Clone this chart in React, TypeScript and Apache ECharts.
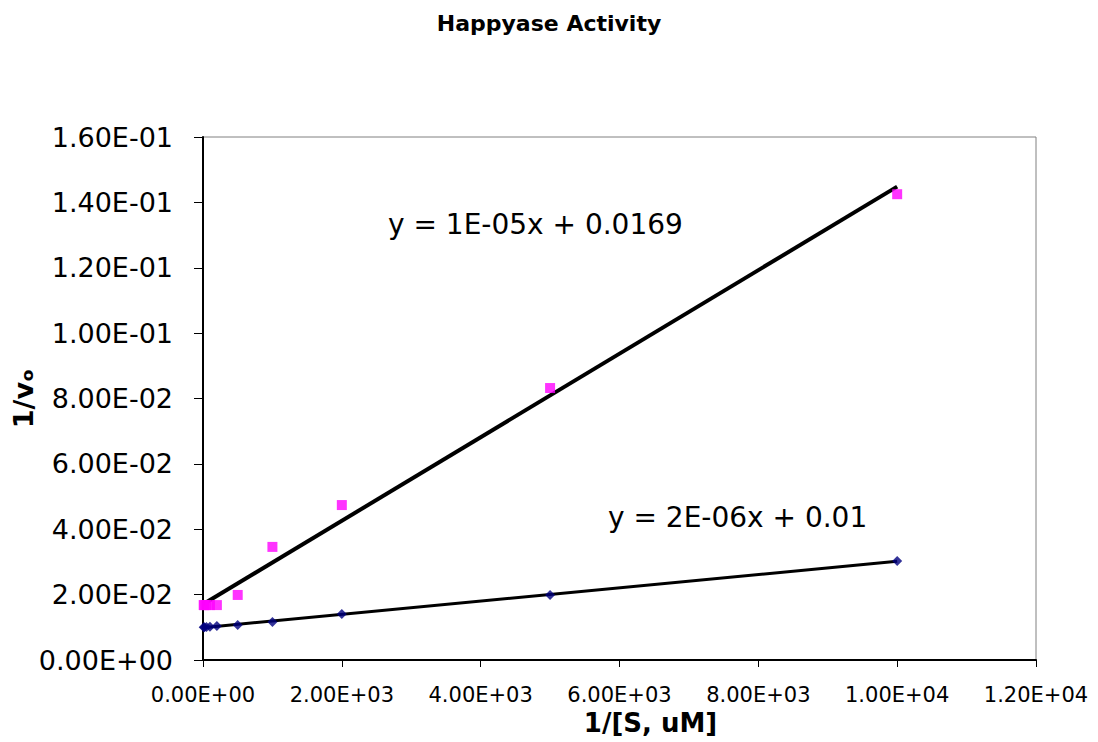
import React, { useEffect, useRef } from "react";
import * as echarts from "echarts";

const xValues = [10, 20, 50, 100, 200, 500, 1000, 2000, 5000, 10000];
const seriesA = [0.0168, 0.0168, 0.0168, 0.0168, 0.0168, 0.0199, 0.0346, 0.0474, 0.0832, 0.1425];
const seriesB = [0.0100, 0.0100, 0.0101, 0.0102, 0.0104, 0.0107, 0.0116, 0.0141, 0.0199, 0.0303];
const labelA = "y = 1E-05x + 0.0169";
const labelB = "y = 2E-06x + 0.01";

function fit(xs: number[], ys: number[]) {
  const n = xs.length;
  const mx = xs.reduce((a, b) => a + b, 0) / n;
  const my = ys.reduce((a, b) => a + b, 0) / n;
  let sxy = 0, sxx = 0;
  for (let i = 0; i < n; i++) { sxy += (xs[i] - mx) * (ys[i] - my); sxx += (xs[i] - mx) ** 2; }
  const m = sxy / sxx;
  return { m, b: my - m * mx };
}

function fmt(v: number) {
  if (v === 0) return "0.00E+00";
  const e = Math.floor(Math.log10(Math.abs(v)) + 1e-9);
  const mant = v / Math.pow(10, e);
  const sign = e < 0 ? "-" : "+";
  const ea = Math.abs(e);
  return mant.toFixed(2) + "E" + sign + (ea < 10 ? "0" + ea : String(ea));
}

export default function App() {
  const ref = useRef<HTMLDivElement>(null);
  useEffect(() => {
    const chart = echarts.init(ref.current!, null, { renderer: "svg" });
    const fa = fit(xValues, seriesA);
    const fb = fit(xValues, seriesB);
    const xEnd = xValues[xValues.length - 1];
    const font = "Verdana, 'DejaVu Sans', sans-serif";
    chart.setOption({
      animation: false,
      backgroundColor: "#fff",
      title: {
        text: "Happyase Activity",
        left: "center",
        top: 7,
        textStyle: { fontFamily: font, fontSize: 22, fontWeight: "bold", color: "#000" },
      },
      grid: {
        left: 203, right: 62, top: 137, bottom: 82,
        containLabel: false, outerBoundsMode: "none",
        show: true, borderColor: "#808080", borderWidth: 1,
      },
      xAxis: {
        type: "value",
        min: 0,
        max: 12000,
        interval: 2000,
        name: "1/[S, uM]",
        nameLocation: "middle",
        nameGap: 50,
        nameMoveOverlap: false,
        nameTextStyle: { fontFamily: font, fontSize: 26, fontWeight: "bold", color: "#000", padding: [0, 0, 0, 62] },
        axisLine: { onZero: false, lineStyle: { color: "#000", width: 2 } },
        axisTick: { show: true, length: 7, lineStyle: { color: "#000" } },
        axisLabel: { formatter: fmt, fontFamily: font, fontSize: 21, color: "#000", margin: 24 },
        splitLine: { show: false },
      },
      yAxis: {
        type: "value",
        min: 0,
        max: 0.16,
        interval: 0.02,
        name: "1/vₒ",
        nameLocation: "middle",
        nameGap: 166,
        nameMoveOverlap: false,
        nameTextStyle: { fontFamily: font, fontSize: 27, fontWeight: "bold", color: "#000" },
        axisLine: { onZero: false, lineStyle: { color: "#000", width: 2 } },
        axisTick: { show: true, length: 9, lineStyle: { color: "#000" } },
        axisLabel: { formatter: fmt, fontFamily: font, fontSize: 27, color: "#000", margin: 30 },
        splitLine: { show: false },
      },
      series: [
        {
          type: "line",
          data: [[0, fa.b], [xEnd, fa.m * xEnd + fa.b]],
          showSymbol: false,
          lineStyle: { color: "#000", width: 4 },
          z: 2,
        },
        {
          type: "line",
          data: [[0, fb.b], [xEnd, fb.m * xEnd + fb.b]],
          showSymbol: false,
          lineStyle: { color: "#000", width: 3 },
          z: 2,
        },
        {
          type: "scatter",
          data: xValues.map((x, i) => [x, seriesA[i]]),
          symbol: "rect",
          symbolSize: 10,
          itemStyle: { color: "#FF00FF" },
          z: 3,
        },
        {
          type: "scatter",
          data: xValues.map((x, i) => [x, seriesB[i]]),
          symbol: "diamond",
          symbolSize: 10,
          itemStyle: { color: "#000080" },
          z: 3,
        },
      ],
      graphic: [
        { type: "text", left: 388, top: 210, style: { text: labelA, fontFamily: font, fontSize: 28, fill: "#000" } },
        { type: "text", left: 608, top: 503, style: { text: labelB, fontFamily: font, fontSize: 28, fill: "#000" } },
      ],
    });
    return () => chart.dispose();
  }, []);
  return <div ref={ref} style={{ width: 1098, height: 742, position: "absolute", left: 0, top: 0 }} />;
}
